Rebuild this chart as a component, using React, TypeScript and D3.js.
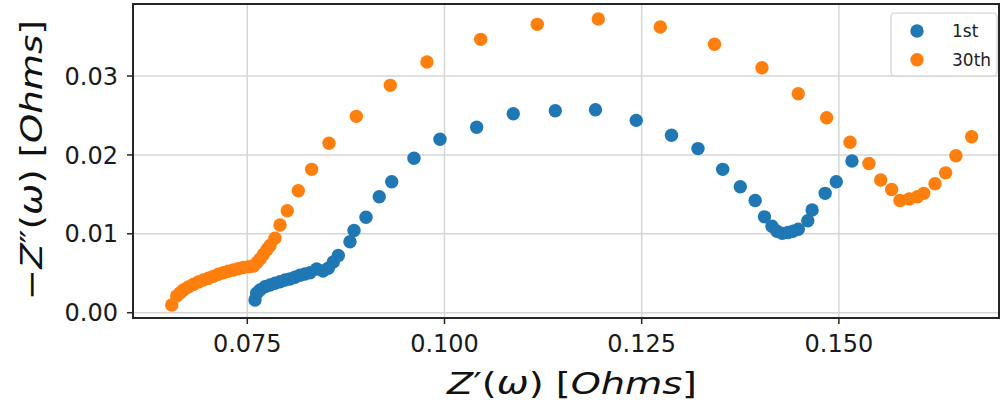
import React from "react";
import * as d3 from "d3";

const xTicks = [0.075, 0.1, 0.125, 0.15];
const xTickLabels = ["0.075", "0.100", "0.125", "0.150"];
const yTicks = [0, 0.01, 0.02, 0.03];
const yTickLabels = ["0.00", "0.01", "0.02", "0.03"];

const seriesNames = ["1st", "30th"];
const seriesColors = ["#1f77b4", "#ff7f0e"];

const firstX = [
  0.07598, 0.07619, 0.07661, 0.07724, 0.07788, 0.07851, 0.07915, 0.07978, 0.08041, 0.08105,
  0.08168, 0.08231, 0.08295, 0.0838, 0.0846, 0.08527, 0.0859, 0.08654, 0.08802, 0.08853,
  0.09005, 0.09173, 0.09331, 0.09613, 0.09943, 0.10408, 0.10872, 0.11405, 0.11914, 0.12431,
  0.12878, 0.13214, 0.13527, 0.1375, 0.13939, 0.14057, 0.14152, 0.14215, 0.14282, 0.14355,
  0.14418, 0.14485, 0.14606, 0.14661, 0.14826, 0.14967, 0.15166,
];
const firstY = [
  0.00161, 0.00246, 0.00288, 0.0033, 0.00351, 0.00373, 0.00393, 0.00414, 0.00427, 0.00449,
  0.00474, 0.0049, 0.00507, 0.00554, 0.00529, 0.00563, 0.00643, 0.00725, 0.009, 0.01042,
  0.01209, 0.0147, 0.0166, 0.01957, 0.02198, 0.0235, 0.02522, 0.02559, 0.02573, 0.02438,
  0.0225, 0.0208, 0.01817, 0.01597, 0.01422, 0.01215, 0.01095, 0.01032, 0.01006, 0.01016,
  0.01032, 0.01058, 0.01165, 0.01302, 0.01513, 0.01659, 0.01923,
];

const thirtiethX = [
  0.06542, 0.06605, 0.06647, 0.06689, 0.06752, 0.06815, 0.06879, 0.06942, 0.07006, 0.07069,
  0.07132, 0.07196, 0.07259, 0.07323, 0.07386, 0.07449, 0.07522, 0.07579, 0.07623, 0.07661,
  0.07703, 0.0775, 0.07788, 0.07851, 0.07915, 0.08007, 0.08147, 0.08316, 0.08536, 0.08882,
  0.09313, 0.09778, 0.10459, 0.11176, 0.1195, 0.12736, 0.13423, 0.14025, 0.14485, 0.14845,
  0.15141, 0.15381, 0.1553, 0.15669, 0.15774, 0.15892, 0.15996, 0.16076, 0.16218, 0.16354,
  0.16484, 0.16683,
];
const thirtiethY = [
  0.00098, 0.00212, 0.0025, 0.00288, 0.00326, 0.00357, 0.00389, 0.00414, 0.00436, 0.00461,
  0.00487, 0.00507, 0.00526, 0.00541, 0.00558, 0.00573, 0.00582, 0.00592, 0.00636, 0.00681,
  0.00738, 0.00801, 0.00852, 0.00943, 0.01112, 0.01293, 0.01546, 0.01817, 0.02147, 0.02489,
  0.02882, 0.03177, 0.03465, 0.03655, 0.03722, 0.03621, 0.03402, 0.03105, 0.02776, 0.02471,
  0.0216, 0.01891, 0.01682, 0.01561, 0.01422, 0.01441, 0.0147, 0.01513, 0.01634, 0.01773,
  0.01989, 0.02231,
];

const xDomain = [0.06051, 0.1703];
const yDomain = [-0.000672, 0.03913];

export default function App() {
  const W = 1000, H = 408;
  const left = 133, right = 999, top = 4, bottom = 318;
  const x = d3.scaleLinear().domain(xDomain).range([left, right]);
  const y = d3.scaleLinear().domain(yDomain).range([bottom, top]);
  const series = [
    { name: seriesNames[0], color: seriesColors[0], xs: firstX, ys: firstY },
    { name: seriesNames[1], color: seriesColors[1], xs: thirtiethX, ys: thirtiethY },
  ];
  const font = "DejaVu Sans, sans-serif";
  const r = 6.7;
  return (
    <svg width={W} height={H} style={{ position: "absolute", left: 0, top: 0, background: "#fff" }} fontFamily={font}>
      <defs>
        <clipPath id="plot">
          <rect x={left} y={top} width={right - left} height={bottom - top} />
        </clipPath>
      </defs>
      {xTicks.map((t) => (
        <line key={"gx" + t} x1={x(t)} x2={x(t)} y1={top} y2={bottom} stroke="#d6d6d6" strokeWidth={1.5} />
      ))}
      {yTicks.map((t) => (
        <line key={"gy" + t} x1={left} x2={right} y1={y(t)} y2={y(t)} stroke="#d6d6d6" strokeWidth={1.5} />
      ))}
      <g clipPath="url(#plot)">
        {series.map((s) =>
          s.xs.map((v, i) => (
            <circle key={s.name + i} cx={x(v)} cy={y(s.ys[i])} r={r} fill={s.color} />
          ))
        )}
      </g>
      <rect x={left} y={top} width={right - left} height={bottom - top} fill="none" stroke="#262626" strokeWidth={2} />
      {xTicks.map((t, i) => (
        <g key={"xt" + t}>
          <line x1={x(t)} x2={x(t)} y1={bottom} y2={bottom + 6} stroke="#262626" strokeWidth={1.5} />
          <text x={x(t)} y={352} textAnchor="middle" fontSize={24} fill="#1a1a1a">
            {xTickLabels[i]}
          </text>
        </g>
      ))}
      {yTicks.map((t, i) => (
        <g key={"yt" + t}>
          <line x1={left - 6} x2={left} y1={y(t)} y2={y(t)} stroke="#262626" strokeWidth={1.5} />
          <text x={118} y={y(t)} dy="0.36em" textAnchor="end" fontSize={24} fill="#1a1a1a">
            {yTickLabels[i]}
          </text>
        </g>
      ))}
      <text x={572} y={394} textAnchor="middle" fontSize={31} fill="#111" textLength={250} lengthAdjust="spacingAndGlyphs">
        <tspan fontStyle="italic">Z</tspan>
        <tspan>′(</tspan>
        <tspan fontStyle="italic">ω</tspan>
        <tspan>) [</tspan>
        <tspan fontStyle="italic">Ohms</tspan>
        <tspan>]</tspan>
      </text>
      <text transform="translate(42,160) rotate(-90)" textAnchor="middle" fontSize={31} fill="#111" textLength={280} lengthAdjust="spacingAndGlyphs">
        <tspan>−</tspan>
        <tspan fontStyle="italic">Z</tspan>
        <tspan>″(</tspan>
        <tspan fontStyle="italic">ω</tspan>
        <tspan>) [</tspan>
        <tspan fontStyle="italic">Ohms</tspan>
        <tspan>]</tspan>
      </text>
      <rect x={891} y={13} width={106} height={63} rx={4} fill="#fff" fillOpacity={0.8} stroke="#d0d0d0" strokeWidth={1.2} />
      {series.map((s, i) => (
        <g key={"lg" + s.name}>
          <circle cx={917} cy={31 + i * 28.7} r={r} fill={s.color} />
          <text x={952} y={31 + i * 28.7} dy="0.36em" fontSize={17} fill="#222">
            {s.name}
          </text>
        </g>
      ))}
    </svg>
  );
}
